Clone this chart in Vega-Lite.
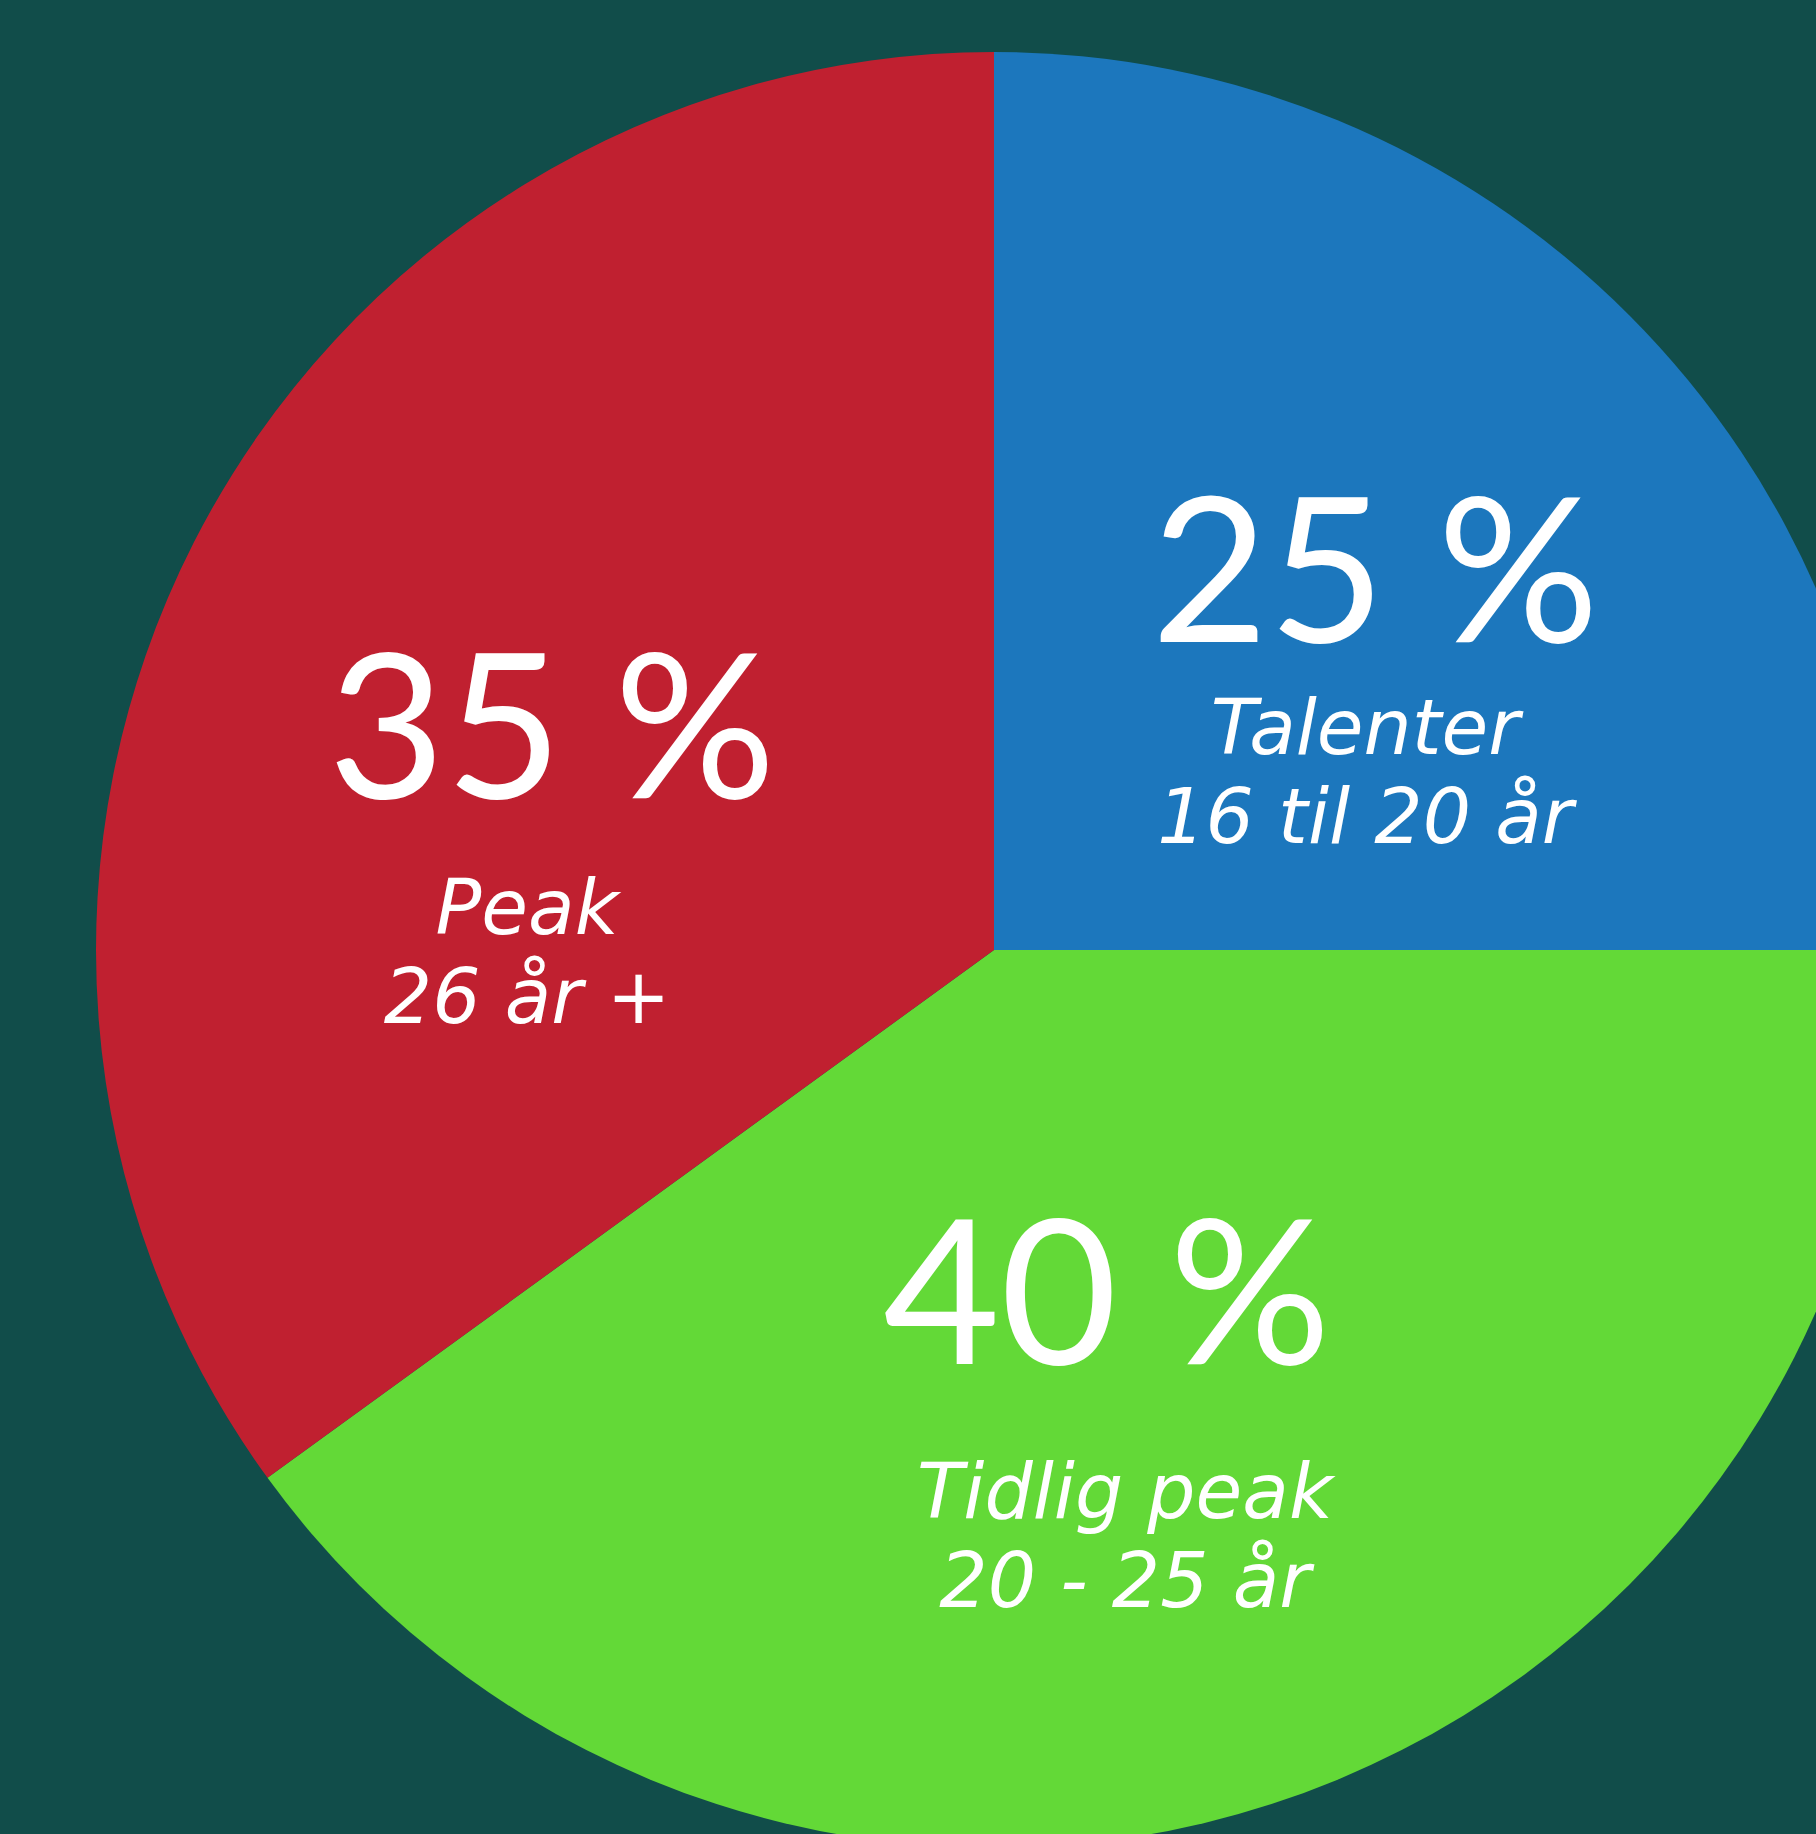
{
  "$schema": "https://vega.github.io/schema/vega-lite/v6.json",
  "width": 1988,
  "height": 1900,
  "autosize": {"type": "none"},
  "padding": 0,
  "background": "#114d4a",
  "config": {"view": {"stroke": null}},
  "data": {
    "values": [
      {"category": "Talenter", "value": 25, "pct": "25 %", "label": "Talenter\n16 til 20 år"},
      {"category": "Tidlig peak", "value": 40, "pct": "40 %", "label": "Tidlig peak\n20 - 25 år"},
      {"category": "Peak", "value": 35, "pct": "35 %", "label": "Peak\n26 år +"}
    ]
  },
  "transform": [{"window": [{"op": "row_number", "as": "idx"}]}],
  "encoding": {
    "theta": {"field": "value", "type": "quantitative", "stack": true},
    "order": {"field": "idx", "type": "quantitative"}
  },
  "layer": [
    {
      "mark": {"type": "arc", "radius": 898},
      "encoding": {
        "color": {
          "field": "category",
          "type": "nominal",
          "scale": {"domain": ["Talenter", "Tidlig peak", "Peak"], "range": ["#1c77bd", "#63d937", "#c02030"]},
          "legend": null
        }
      }
    },
    {
      "mark": {"type": "text", "radius": 539, "dy": 73, "align": "center", "baseline": "alphabetic", "font": "Lato", "fontSize": 202, "fill": "white"},
      "encoding": {"text": {"condition": {"test": "datum.category === 'Talenter'", "field": "pct"}, "value": ""}}
    },
    {
      "mark": {"type": "text", "radius": 539, "dx": -10, "dy": 185, "align": "center", "baseline": "alphabetic", "lineBreak": "\n", "lineHeight": 89, "font": "DejaVu Sans", "fontStyle": "italic", "fontSize": 76, "fill": "white"},
      "encoding": {"text": {"condition": {"test": "datum.category === 'Talenter'", "field": "label"}, "value": ""}}
    },
    {
      "mark": {"type": "text", "radius": 496, "dy": 73, "align": "center", "baseline": "alphabetic", "font": "Lato", "fontSize": 202, "fill": "white"},
      "encoding": {"text": {"condition": {"test": "datum.category === 'Peak'", "field": "pct"}, "value": ""}}
    },
    {
      "mark": {"type": "text", "radius": 496, "dx": -25, "dy": 209, "align": "center", "baseline": "alphabetic", "lineBreak": "\n", "lineHeight": 89, "font": "DejaVu Sans", "fontStyle": "italic", "fontSize": 76, "fill": "white"},
      "encoding": {"text": {"condition": {"test": "datum.category === 'Peak'", "field": "label"}, "value": ""}}
    },
    {
      "mark": {"type": "text", "radius": 359, "dx": 2, "dy": 73, "align": "center", "baseline": "alphabetic", "font": "Lato", "fontSize": 202, "fill": "white"},
      "encoding": {"text": {"condition": {"test": "datum.category === 'Tidlig peak'", "field": "pct"}, "value": ""}}
    },
    {
      "mark": {"type": "text", "radius": 359, "dx": 20, "dy": 227, "align": "center", "baseline": "alphabetic", "lineBreak": "\n", "lineHeight": 89, "font": "DejaVu Sans", "fontStyle": "italic", "fontSize": 76, "fill": "white"},
      "encoding": {"text": {"condition": {"test": "datum.category === 'Tidlig peak'", "field": "label"}, "value": ""}}
    }
  ]
}
